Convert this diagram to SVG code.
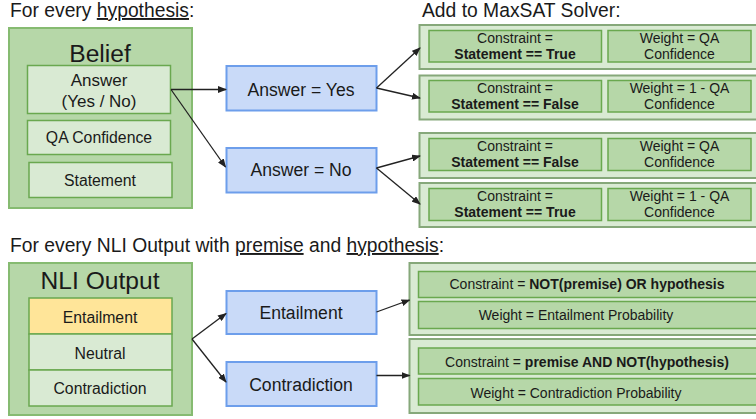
<svg xmlns="http://www.w3.org/2000/svg" width="756" height="419" viewBox="0 0 756 419">
<defs>
<marker id="ah" markerWidth="9" markerHeight="7" refX="8" refY="3.5" orient="auto" markerUnits="userSpaceOnUse">
<path d="M0,0 L9,3.5 L0,7 z" fill="#222"/>
</marker>
<style>
text{font-family:"Liberation Sans",Arial,sans-serif;fill:#1a1a1a;text-anchor:middle}
.h{font-size:19.3px;text-anchor:start}
.t{font-size:24.6px}
.s16{font-size:15.8px}
.s17{font-size:17px}
.b{font-size:17.6px}
.r{font-size:14px}
.bd{font-weight:bold}
.u{text-decoration:underline}
.gOut{fill:#b6d7a8;stroke:#86bb71;stroke-width:2}
.gIn{fill:#d9ead3;stroke:#6aa84f;stroke-width:1.5}
.yIn{fill:#ffe599;stroke:#6aa84f;stroke-width:1.5}
.blue{fill:#c9daf8;stroke:#6d9eeb;stroke-width:2}
.rOut{fill:#d9ead3;stroke:#86a87a;stroke-width:2}
.rIn{fill:#b6d7a8;stroke:#6aa84f;stroke-width:1.5}
.c{fill:none;stroke:#222;stroke-width:1.3;marker-end:url(#ah)}
</style>
</defs>

<text class="h" x="10" y="17">For every <tspan class="u">hypothesis</tspan>:</text>
<text class="h" x="422" y="17">Add to MaxSAT Solver:</text>
<text class="h" x="10" y="252">For every NLI Output with <tspan class="u">premise</tspan> and <tspan class="u">hypothesis</tspan>:</text>

<g id="belief">
<rect class="gOut" x="9" y="28" width="183" height="180"/>
<text class="t" x="100" y="62">Belief</text>
<rect class="gIn" x="27.5" y="65.5" width="143" height="48"/>
<text class="s17" x="99" y="86">Answer</text>
<text class="s17" x="99" y="107">(Yes / No)</text>
<rect class="gIn" x="27.5" y="120.5" width="143" height="34"/>
<text class="s16" x="99" y="143">QA Confidence</text>
<rect class="gIn" x="29" y="162.5" width="143" height="35"/>
<text class="s16" x="100" y="186">Statement</text>
</g>

<g id="ans-yes">
<rect class="blue" x="226.5" y="66" width="150" height="44.5"/>
<text class="b" x="301" y="95.5">Answer = Yes</text>
</g>
<g id="ans-no">
<rect class="blue" x="226.5" y="148" width="150" height="44.5"/>
<text class="b" x="301" y="176">Answer = No</text>
</g>

<g id="max1">
<rect class="rOut" x="419.5" y="25" width="340" height="44"/>
<rect class="rIn" x="429" y="30.5" width="172.5" height="31.5"/>
<text class="r" x="515" y="42.5">Constraint =</text>
<text class="r bd" x="515" y="59">Statement == True</text>
<rect class="rIn" x="608" y="30.5" width="143" height="31.5"/>
<text class="r" x="679.5" y="42.5">Weight = QA</text>
<text class="r" x="679.5" y="59">Confidence</text>
</g>
<g id="max2">
<rect class="rOut" x="419.5" y="75.5" width="340" height="44"/>
<rect class="rIn" x="429" y="80.5" width="172.5" height="31.5"/>
<text class="r" x="515" y="92.5">Constraint =</text>
<text class="r bd" x="515" y="109">Statement == False</text>
<rect class="rIn" x="608" y="80.5" width="143" height="31.5"/>
<text class="r" x="679.5" y="92.5">Weight = 1 - QA</text>
<text class="r" x="679.5" y="109">Confidence</text>
</g>
<g id="max3">
<rect class="rOut" x="419.5" y="133" width="340" height="45"/>
<rect class="rIn" x="429" y="138.5" width="172.5" height="32"/>
<text class="r" x="515" y="150.5">Constraint =</text>
<text class="r bd" x="515" y="167">Statement == False</text>
<rect class="rIn" x="608" y="138.5" width="143" height="32"/>
<text class="r" x="679.5" y="150.5">Weight = QA</text>
<text class="r" x="679.5" y="167">Confidence</text>
</g>
<g id="max4">
<rect class="rOut" x="419.5" y="183" width="340" height="44"/>
<rect class="rIn" x="429" y="188.5" width="172.5" height="32"/>
<text class="r" x="515" y="200.5">Constraint =</text>
<text class="r bd" x="515" y="217">Statement == True</text>
<rect class="rIn" x="608" y="188.5" width="143" height="32"/>
<text class="r" x="679.5" y="200.5">Weight = 1 - QA</text>
<text class="r" x="679.5" y="217">Confidence</text>
</g>

<g id="nli">
<rect class="gOut" x="9" y="263" width="183" height="152"/>
<text class="t" x="100" y="289">NLI Output</text>
<rect class="yIn" x="29" y="298" width="143" height="36"/>
<text class="s16" x="100" y="322.5">Entailment</text>
<rect class="gIn" x="29" y="334" width="143" height="36"/>
<text class="s16" x="100" y="358.5">Neutral</text>
<rect class="gIn" x="29" y="370" width="143" height="36"/>
<text class="s16" x="100" y="394">Contradiction</text>
</g>

<g id="ent">
<rect class="blue" x="226.5" y="291" width="150" height="43"/>
<text class="b" x="301" y="319">Entailment</text>
</g>
<g id="con">
<rect class="blue" x="226.5" y="362" width="150" height="44"/>
<text class="b" x="301" y="391">Contradiction</text>
</g>

<g id="nli-r1">
<rect class="rOut" x="409.5" y="263" width="350" height="72"/>
<rect class="rIn" x="418.5" y="271.5" width="340" height="26"/>
<text class="r" x="587" y="288.5">Constraint = <tspan class="bd">NOT(premise) OR hypothesis</tspan></text>
<rect class="rIn" x="418.5" y="301.5" width="340" height="27"/>
<text class="r" x="576" y="319.5">Weight = Entailment Probability</text>
</g>
<g id="nli-r2">
<rect class="rOut" x="409.5" y="339" width="350" height="74"/>
<rect class="rIn" x="418.5" y="348" width="340" height="26"/>
<text class="r" x="587" y="367">Constraint = <tspan class="bd">premise AND NOT(hypothesis)</tspan></text>
<rect class="rIn" x="418.5" y="378.5" width="340" height="26.5"/>
<text class="r" x="576" y="397.5">Weight = Contradiction Probability</text>
</g>

<g id="connectors">
<line class="c" x1="171" y1="89.5" x2="226" y2="89.5"/>
<line class="c" x1="171" y1="89.5" x2="225.5" y2="167"/>
<line class="c" x1="376.5" y1="88" x2="420" y2="48"/>
<line class="c" x1="376.5" y1="88" x2="420" y2="98"/>
<line class="c" x1="376.5" y1="168" x2="420" y2="156"/>
<line class="c" x1="376.5" y1="168" x2="420" y2="204"/>
<line class="c" x1="192" y1="339" x2="226" y2="313.5"/>
<line class="c" x1="192" y1="339" x2="226" y2="382"/>
<line class="c" x1="376.5" y1="312" x2="409.5" y2="300"/>
<line class="c" x1="376.5" y1="375.5" x2="409.5" y2="375.5"/>
</g>
</svg>
